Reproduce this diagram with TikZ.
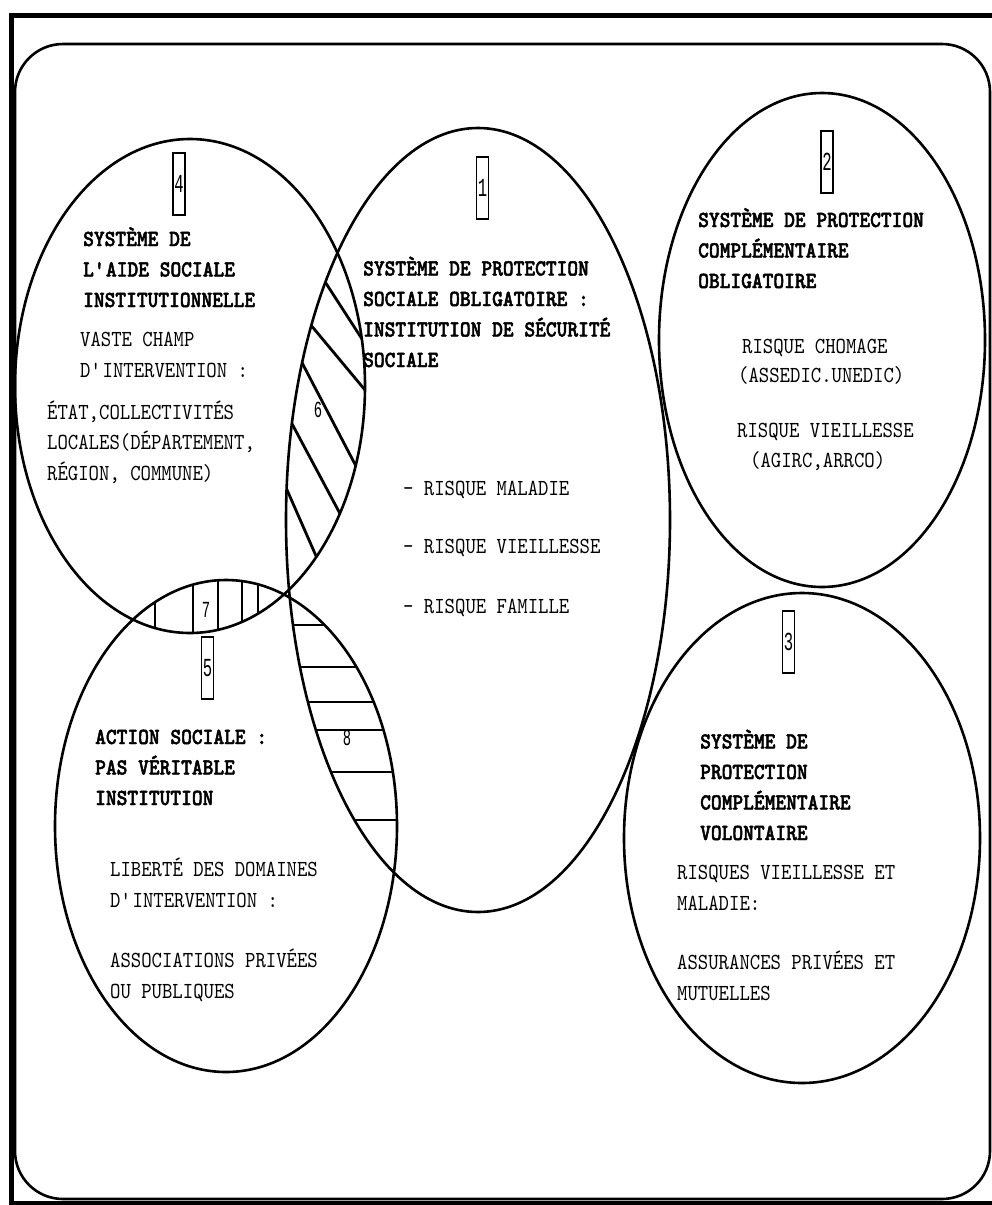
\documentclass[tikz,border=0pt]{standalone}
\usepackage{fontspec}
\newfontfamily\courfont[FakeStretch=0.86]{lmmono10-regular.otf}
\newfontfamily\titlefont[FakeStretch=0.89,FakeBold=2]{lmmonolt10-bold.otf}
\newfontfamily\digitfont[FakeStretch=0.6]{Liberation Mono}
\tikzset{
  venn/.style={line width=2.6},
  hatch/.style={line width=2.8},
  numbox/.style={draw, line width=1.8, minimum width=12, minimum height=62, inner sep=0,
    font=\digitfont\fontsize{26}{26}\selectfont},
  zone/.style={inner sep=0, font=\digitfont\fontsize{23}{23}\selectfont},
  titre/.style={anchor=base west, inner sep=0, align=left,
    font=\titlefont\fontsize{23}{30.5}\selectfont},
  texte/.style={anchor=base west, inner sep=0, align=left,
    font=\courfont\fontsize{23}{30.5}\selectfont},
}
\begin{document}
\begin{tikzpicture}[x=1pt,y=-1pt]
  \useasboundingbox (0,0) rectangle (992,1205);
  \clip (0,0) rectangle (992,1205);

  % cadre
  \draw[line width=5] (11,15) rectangle (1000,1203);
  \draw[venn, rounded corners=48] (15,44) rectangle (990,1199);

  % zone 6 : aide sociale / protection obligatoire
  \begin{scope}
    \clip (190,386) ellipse [x radius=175, y radius=247];
    \clip (478,520) ellipse [x radius=192, y radius=392];
    \foreach \xa/\ya/\xb/\yb in {320/274/362/339, 305/318/370/396, 298/355/358/470,
                                 290/420/345/523, 284/483/320/565}
      \draw[hatch] (\xa,\ya) -- (\xb,\yb);
  \end{scope}

  % zone 7 : aide sociale / action sociale
  \begin{scope}
    \clip (190,386) ellipse [x radius=175, y radius=247];
    \clip (226,826) ellipse [x radius=171, y radius=246];
    \foreach \x in {155,193,218,242,258}
      \draw[hatch] (\x,560) -- (\x,650);
  \end{scope}

  % zone 8 : protection obligatoire / action sociale
  \begin{scope}
    \clip (478,520) ellipse [x radius=192, y radius=392];
    \clip (226,826) ellipse [x radius=171, y radius=246];
    \foreach \y in {625,667,702,730,772,820}
      \draw[hatch] (280,\y) -- (420,\y);
  \end{scope}

  % les cinq systemes
  \draw[venn] (190,386) ellipse [x radius=175, y radius=247];
  \draw[venn] (478,520) ellipse [x radius=192, y radius=392];
  \draw[venn] (226,826) ellipse [x radius=171, y radius=246];
  \draw[venn] (822,340) ellipse [x radius=163, y radius=247];
  \draw[venn] (802,838) ellipse [x radius=178, y radius=245];

  \node[numbox] (n4) at (179,184) {4};
  \node[numbox] (n1) at (482.5,188) {1};
  \node[numbox] (n2) at (827,162) {2};
  \node[numbox] (n5) at (207.5,668) {5};
  \node[numbox] (n3) at (788.5,642) {3};

  \node[zone] (z6) at (318,410) {6};
  \node[zone] (z7) at (206,610) {7};
  \node[zone] (z8) at (347,738) {8};

  % 4 (base = derniere ligne)
  \node[titre] (t4) at (83,307) {SYSTÈME DE\\L\textquotesingle AIDE SOCIALE\\INSTITUTIONNELLE};
  \node[texte] (c4) at (80,377) {VASTE CHAMP\\D\textquotesingle INTERVENTION :};
  \node[texte] (l4) at (47,480) {ÉTAT,COLLECTIVITÉS\\LOCALES(DÉPARTEMENT,\\RÉGION, COMMUNE)};

  % 1
  \node[titre] (t1) at (363,367) {SYSTÈME DE PROTECTION\\SOCIALE OBLIGATOIRE :\\INSTITUTION DE SÉCURITÉ\\SOCIALE};
  \node[texte] (r1) at (403,495) {- RISQUE MALADIE};
  \node[texte] (r2) at (403,553) {- RISQUE VIEILLESSE};
  \node[texte] (r3) at (403,613) {- RISQUE FAMILLE};

  % 2
  \node[titre] (t2) at (698,288) {SYSTÈME DE PROTECTION\\COMPLÉMENTAIRE\\OBLIGATOIRE};
  \node[texte] (ch) at (742,353) {RISQUE CHOMAGE};
  \node[texte] (as) at (738,382) {(ASSEDIC.UNEDIC)};
  \node[texte] (vi) at (737,437) {RISQUE VIEILLESSE};
  \node[texte] (ag) at (750,467) {(AGIRC,ARRCO)};

  % 3
  \node[titre] (t3) at (700,840) {SYSTÈME DE\\PROTECTION\\COMPLÉMENTAIRE\\VOLONTAIRE};
  \node[texte] (rv) at (677,910) {RISQUES VIEILLESSE ET\\MALADIE:};
  \node[texte] (pm) at (677,1000) {ASSURANCES PRIVÉES ET\\MUTUELLES};

  % 5
  \node[titre] (t5) at (95,805) {ACTION SOCIALE :\\PAS VÉRITABLE\\INSTITUTION};
  \node[texte] (ld) at (110,907) {LIBERTÉ DES DOMAINES\\D\textquotesingle INTERVENTION :};
  \node[texte] (ap) at (110,998) {ASSOCIATIONS PRIVÉES\\OU PUBLIQUES};
\end{tikzpicture}
\end{document}
